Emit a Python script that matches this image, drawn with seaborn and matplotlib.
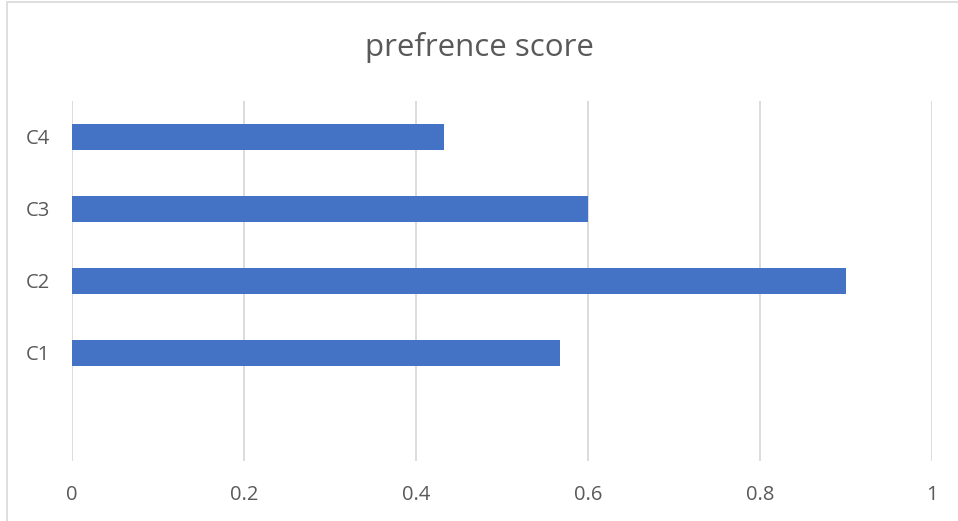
import matplotlib
matplotlib.use("Agg")
import matplotlib.pyplot as plt
import seaborn as sns
import pandas as pd
from matplotlib.patches import Rectangle

# data (blank slot at the bottom is an empty category)
categories = ["C4", "C3", "C2", "C1", ""]
scores = [0.433, 0.600, 0.900, 0.567, float("nan")]
x_ticks = [0, 0.2, 0.4, 0.6, 0.8, 1]
x_labels = ["0", "0.2", "0.4", "0.6", "0.8", "1"]

sns.set_style("white")
plt.rcParams["font.family"] = ["Open Sans", "DejaVu Sans"]

df = pd.DataFrame({"cat": categories, "score": scores})

fig = plt.figure(figsize=(9.58, 5.21), dpi=100)
ax = fig.add_axes([72 / 958, 1 - 461 / 521, (932 - 72) / 958, (461 - 101) / 521])

sns.barplot(data=df, x="score", y="cat", order=categories, color="#4472C4",
            saturation=1, width=0.36, linewidth=0, ax=ax, zorder=3)

ax.set_xlim(0, 1)
ax.set_ylim(4.5, -0.5)
ax.set_xticks(x_ticks)
ax.set_xticklabels(x_labels)
ax.grid(axis="x", color="#D9D9D9", linewidth=1.3, zorder=0)
ax.set_xlabel("")
ax.set_ylabel("")
for s in ax.spines.values():
    s.set_visible(False)
ax.tick_params(axis="both", length=0, labelsize=14.5, colors="#595959")
ax.tick_params(axis="y", pad=16)
ax.tick_params(axis="x", pad=17)

fig.text(0.5, 1 - 47 / 521, "prefrence score", ha="center", va="center",
         fontsize=22.5, color="#595959")

# outer chart border
fig.patches.append(Rectangle((7 / 958, -0.01), 1.0, 1 - 2 / 521 + 0.01,
                             transform=fig.transFigure, fill=False,
                             edgecolor="#D9D9D9", linewidth=1.2))

fig.savefig("out.png", dpi=100)
